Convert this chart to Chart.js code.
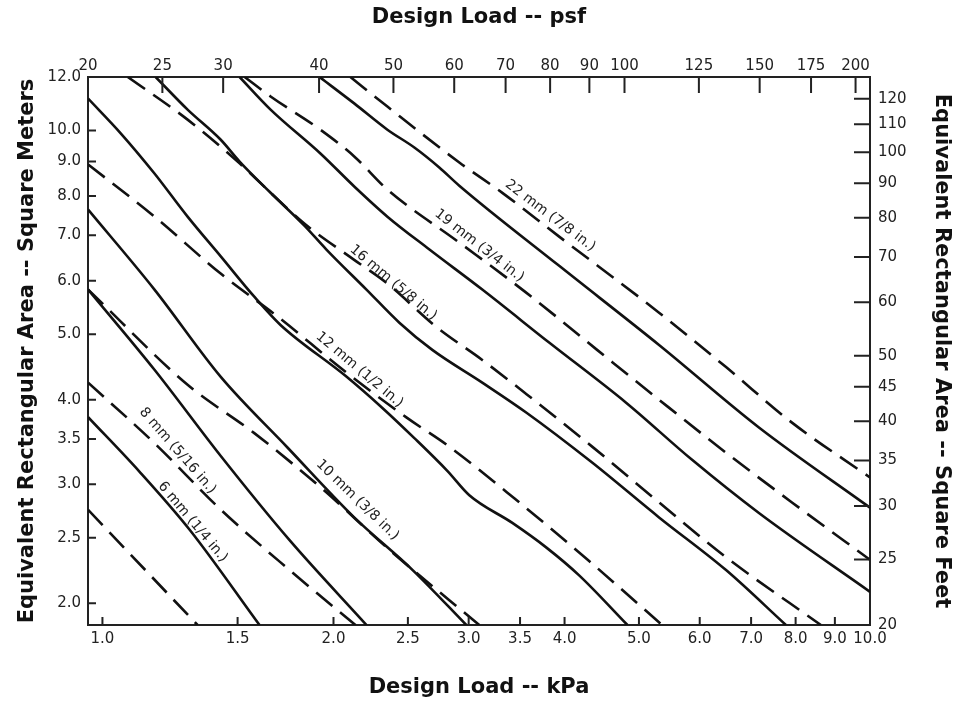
<!DOCTYPE html>
<html lang="en">
<head>
<meta charset="UTF-8">
<title>Design Load vs Equivalent Rectangular Area</title>
<script src="https://cdn.jsdelivr.net/npm/chart.js"></script>
<style>
  body { margin: 0; background: #fff; }
  #wrap { width: 954px; height: 701px; position: relative; }
</style>
</head>
<body>
<div id="wrap"><canvas id="chart"></canvas></div>
<script>
// tick values on the four axes
const kpaTicks = [1.0, 1.5, 2.0, 2.5, 3.0, 3.5, 4.0, 5.0, 6.0, 7.0, 8.0, 9.0, 10.0];
const psfTicks = [20, 25, 30, 40, 50, 60, 70, 80, 90, 100, 125, 150, 175, 200];
const m2Ticks = [2.0, 2.5, 3.0, 3.5, 4.0, 5.0, 6.0, 7.0, 8.0, 9.0, 10.0, 12.0];
const sqftTicks = [20, 25, 30, 35, 40, 45, 50, 60, 70, 80, 90, 100, 110, 120];

// unit conversions for the top / right axes
const PSF_PER_KPA = 20.8854;
const SQFT_PER_M2 = 10.7639;

// axis limits (kPa, m²)
const loadMin = 20 / PSF_PER_KPA, loadMax = 10;
const areaMin = 20 / SQFT_PER_M2, areaMax = 12;

// glass thicknesses
const thickness = ['6 mm (1/4 in.)', '8 mm (5/16 in.)', '10 mm (3/8 in.)', '12 mm (1/2 in.)',
                   '16 mm (5/8 in.)', '19 mm (3/4 in.)', '22 mm (7/8 in.)'];

// curves: [load kPa, area m²]
const mm6Solid = [[0.958, 3.77], [1.118, 3.13], [1.299, 2.57], [1.602, 1.858]];
const mm6Dashed = [[0.958, 2.75], [1.33, 1.858]];
const mm8Solid = [[0.958, 5.82], [1.169, 4.43], [1.427, 3.30], [1.753, 2.48], [2.208, 1.858]];
const mm8Dashed = [[0.958, 4.24], [1.169, 3.45], [1.427, 2.75], [1.753, 2.24], [2.136, 1.858]];
const mm10Solid = [[0.958, 7.64], [1.169, 5.82], [1.427, 4.32], [1.742, 3.40], [2.128, 2.68], [2.536, 2.24], [2.979, 1.858]];
const mm10Dashed = [[0.958, 5.82], [1.291, 4.21], [1.577, 3.57], [1.923, 2.97], [2.365, 2.40], [3.097, 1.858]];
const mm12Solid = [[0.958, 11.15], [1.057, 9.90], [1.169, 8.64], [1.291, 7.46], [1.427, 6.51], [1.577, 5.68],
                   [1.706, 5.16], [2.073, 4.34], [2.316, 3.89], [2.549, 3.51], [2.814, 3.14], [3.006, 2.89],
                   [3.420, 2.63], [3.785, 2.42], [4.179, 2.20], [4.83, 1.858]];
const mm12Dashed = [[0.958, 8.91], [1.169, 7.46], [1.427, 6.14], [1.691, 5.31], [2.073, 4.40], [2.486, 3.77],
                    [2.830, 3.41], [3.440, 2.86], [4.306, 2.31], [5.36, 1.858]];
const mm16Solid = [[1.173, 12.0], [1.291, 10.74], [1.425, 9.70], [1.509, 9.00], [1.651, 8.12], [1.834, 7.23],
                   [1.958, 6.67], [2.208, 5.82], [2.437, 5.20], [2.690, 4.74], [3.125, 4.24], [3.565, 3.83],
                   [4.345, 3.23], [5.311, 2.68], [6.493, 2.24], [7.77, 1.858]];
const mm16Dashed = [[1.079, 12.0], [1.291, 10.38], [1.500, 9.00], [1.651, 8.12], [1.834, 7.28], [2.128, 6.44],
                    [2.351, 5.94], [2.720, 5.13], [3.125, 4.58], [3.565, 4.08], [4.345, 3.41], [5.311, 2.82],
                    [6.493, 2.34], [8.63, 1.858]];
const mm19Solid = [[1.509, 12.0], [1.656, 10.74], [1.923, 9.25], [2.130, 8.26], [2.351, 7.46], [2.667, 6.67],
                   [3.125, 5.82], [3.819, 4.86], [4.811, 3.96], [5.864, 3.26], [7.166, 2.72], [10.0, 2.08]];
const mm19Dashed = [[1.532, 12.0], [1.656, 11.23], [1.923, 10.03], [2.130, 9.15], [2.351, 8.18], [2.917, 6.83],
                    [3.565, 5.76], [4.410, 4.74], [5.311, 4.00], [6.493, 3.34], [7.913, 2.82], [10.0, 2.32]];
const mm22Solid = [[1.918, 12.0], [2.130, 10.96], [2.351, 10.03], [2.549, 9.44], [2.747, 8.82], [2.917, 8.29],
                   [3.936, 6.31], [5.311, 4.82], [7.166, 3.64], [10.0, 2.77]];
const mm22Dashed = [[2.104, 12.0], [2.351, 10.85], [2.917, 8.97], [3.319, 8.09], [3.936, 6.97], [5.311, 5.38],
                    [6.493, 4.47], [7.913, 3.70], [10.0, 3.07]];

// where each thickness label sits (kPa, m²)
const labelLoad = [1.311, 1.253, 2.149, 2.162, 2.393, 3.097, 3.831];
const labelArea = [2.638, 3.361, 2.843, 4.429, 5.957, 6.757, 7.484];

const solidSeries = [mm6Solid, mm8Solid, mm10Solid, mm12Solid, mm16Solid, mm19Solid, mm22Solid];
const dashedSeries = [mm6Dashed, mm8Dashed, mm10Dashed, mm12Dashed, mm16Dashed, mm19Dashed, mm22Dashed];

const INK = '#111';
const FONT = 'DejaVu Sans';

function makeSet(name, pts, dashed) {
    return {
        label: name,
        data: pts.map(p => ({ x: p[0], y: p[1] })),
        borderColor: INK,
        borderWidth: 2.6,
        borderDash: dashed ? [21, 10] : [],
        pointRadius: 0,
        cubicInterpolationMode: 'monotone',
        fill: false,
        clip: 0
    };
}

const datasets = [];
thickness.forEach((t, i) => {
    datasets.push(makeSet(t + ' solid', solidSeries[i], false));
    datasets.push(makeSet(t + ' dashed', dashedSeries[i], true));
});

function fixTicks(values) {
    return scale => { scale.ticks = values.map(v => ({ value: v })); };
}

const tickFont = { family: FONT, size: 15 };
const titleFont = { family: FONT, size: 21, weight: 'bold' };
const border = { display: true, color: '#222', width: 2 };
const noGrid = { display: false, drawTicks: false };

// inward tick marks, metric ones short, imperial ones long
const tickMarks = {
    id: 'tickMarks',
    afterDraw(chart) {
        const { ctx, chartArea: a, scales } = chart;
        ctx.save();
        ctx.strokeStyle = '#222';
        ctx.lineWidth = 2;
        ctx.beginPath();
        scales.x.ticks.forEach(t => {
            const p = scales.x.getPixelForValue(t.value);
            ctx.moveTo(p, a.bottom); ctx.lineTo(p, a.bottom - 8);
        });
        scales.x2.ticks.forEach(t => {
            const p = scales.x2.getPixelForValue(t.value);
            ctx.moveTo(p, a.top); ctx.lineTo(p, a.top + 16);
        });
        scales.y.ticks.forEach(t => {
            const p = scales.y.getPixelForValue(t.value);
            ctx.moveTo(a.left, p); ctx.lineTo(a.left + 8, p);
        });
        scales.y2.ticks.forEach(t => {
            const p = scales.y2.getPixelForValue(t.value);
            ctx.moveTo(a.right, p); ctx.lineTo(a.right - 16, p);
        });
        ctx.stroke();
        ctx.restore();
    }
};

// thickness labels written along the curves
const curveLabels = {
    id: 'curveLabels',
    afterDatasetsDraw(chart) {
        const { ctx, scales } = chart;
        const angles = [50, 49, 44, 40, 40, 38, 37];
        ctx.save();
        ctx.fillStyle = '#222';
        ctx.font = '14px "' + FONT + '"';
        ctx.textAlign = 'center';
        ctx.textBaseline = 'middle';
        thickness.forEach((t, i) => {
            const px = scales.x.getPixelForValue(labelLoad[i]);
            const py = scales.y.getPixelForValue(labelArea[i]);
            ctx.save();
            ctx.translate(px, py);
            ctx.rotate(angles[i] * Math.PI / 180);
            ctx.fillText(t, 0, 0);
            ctx.restore();
        });
        ctx.restore();
    }
};

new Chart(document.getElementById('chart'), {
    type: 'line',
    data: { datasets: datasets },
    options: {
        responsive: true,
        maintainAspectRatio: false,
        animation: false,
        layout: { padding: 0 },
        plugins: { legend: { display: false }, tooltip: { enabled: false } },
        scales: {
            x: {
                type: 'logarithmic', position: 'bottom', bounds: 'data',
                min: loadMin, max: loadMax,
                afterBuildTicks: fixTicks(kpaTicks),
                afterFit: s => { s.height = 76; },
                grid: noGrid, border: border,
                ticks: { autoSkip: false, maxRotation: 0, padding: 5, color: '#222', font: tickFont,
                         callback: v => Number(v).toFixed(1) },
                title: { display: true, text: 'Design Load -- kPa', color: '#111', font: titleFont,
                         padding: { top: 0, bottom: 1 } }
            },
            x2: {
                type: 'logarithmic', position: 'top', bounds: 'data',
                min: loadMin * PSF_PER_KPA, max: loadMax * PSF_PER_KPA,
                afterBuildTicks: fixTicks(psfTicks),
                afterFit: s => { s.height = 77; },
                grid: noGrid, border: border,
                ticks: { autoSkip: false, maxRotation: 0, padding: 2, color: '#222', font: tickFont,
                         callback: v => String(v) },
                title: { display: true, text: 'Design Load -- psf', color: '#111', font: titleFont,
                         padding: { top: 5, bottom: 0 } }
            },
            y: {
                type: 'logarithmic', position: 'left', bounds: 'data',
                min: areaMin, max: areaMax,
                afterBuildTicks: fixTicks(m2Ticks),
                afterFit: s => { s.width = 88; },
                grid: noGrid, border: border,
                ticks: { autoSkip: false, padding: 7, color: '#222', font: tickFont,
                         callback: v => Number(v).toFixed(1) },
                title: { display: true, text: 'Equivalent Rectangular Area -- Square Meters', color: '#111',
                         font: titleFont, padding: { top: 15, bottom: 0 } }
            },
            y2: {
                type: 'logarithmic', position: 'right', bounds: 'data',
                min: areaMin * SQFT_PER_M2, max: areaMax * SQFT_PER_M2,
                afterBuildTicks: fixTicks(sqftTicks),
                afterFit: s => { s.width = 84; },
                grid: noGrid, border: border,
                ticks: { autoSkip: false, padding: 8, color: '#222', font: tickFont,
                         callback: v => String(v) },
                title: { display: true, text: 'Equivalent Rectangular Area -- Square Feet', color: '#111',
                         font: titleFont, padding: { top: 0, bottom: 1 } }
            }
        }
    },
    plugins: [tickMarks, curveLabels]
});
</script>
</body>
</html>
